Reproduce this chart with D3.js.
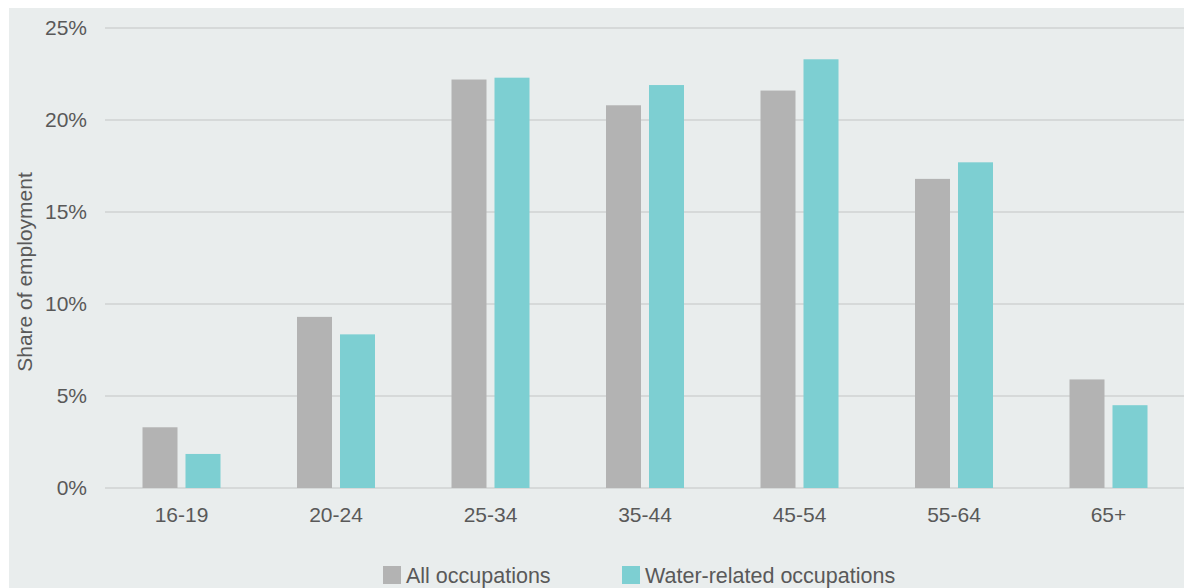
<!DOCTYPE html>
<html>
<head>
<meta charset="utf-8">
<script src="https://cdn.jsdelivr.net/npm/d3@7"></script>
<style>
  html, body { margin: 0; padding: 0; background: #ffffff; }
  svg { display: block; }
  text { font-family: "Liberation Sans", Arial, Helvetica, sans-serif; fill: #595959; }
</style>
</head>
<body>
<svg id="chart" width="1184" height="588"></svg>
<script>
const categories = ["16-19", "20-24", "25-34", "35-44", "45-54", "55-64", "65+"];
const seriesNames = ["All occupations", "Water-related occupations"];
const allOccupations = [3.3, 9.3, 22.2, 20.8, 21.6, 16.8, 5.9];
const waterRelated = [1.85, 8.35, 22.3, 21.9, 23.3, 17.7, 4.5];
const yTicks = [0, 5, 10, 15, 20, 25];
const colors = ["#b3b3b3", "#7dcfd2"];

const svg = d3.select("#chart");
const W = 1184, H = 588;

// panel background
svg.append("rect").attr("x", 9).attr("y", 8).attr("width", W - 9).attr("height", H - 8).attr("fill", "#e9eded");

const x = d3.scaleBand().domain(categories).range([104.25, 1185.75]).paddingInner(0).paddingOuter(0);
const y = d3.scaleLinear().domain([0, 25]).range([488, 28]);

const gridX0 = 105;
// gridlines
svg.append("g").selectAll("line").data(yTicks).join("line")
  .attr("x1", gridX0).attr("x2", W)
  .attr("y1", d => y(d)).attr("y2", d => y(d))
  .attr("stroke", "#d6d9d9").attr("stroke-width", 2);

// y axis labels
const yAxis = d3.axisLeft(y).tickValues(yTicks).tickFormat(d => d + "%").tickSize(0).tickPadding(0);
const gy = svg.append("g").attr("transform", "translate(87,0)").call(yAxis);
gy.select(".domain").remove();
gy.selectAll("text").attr("font-size", 21).attr("fill", "#595959")
  .style("font-family", '"Liberation Sans", Arial, sans-serif').attr("dy", "0.3em");

// x axis labels
const xAxis = d3.axisBottom(x).tickSize(0).tickPadding(0);
const gx = svg.append("g").attr("transform", "translate(0,506)").call(xAxis);
gx.select(".domain").remove();
gx.selectAll("text").attr("font-size", 21).attr("fill", "#595959")
  .style("font-family", '"Liberation Sans", Arial, sans-serif').attr("dy", "0.75em");

// bars
const barW = 35, gap = 8;
const series = [allOccupations, waterRelated];
series.forEach((vals, si) => {
  svg.append("g").selectAll("rect").data(vals).join("rect")
    .attr("x", (d, i) => x(categories[i]) + x.bandwidth() / 2 - (barW * 2 + gap) / 2 + si * (barW + gap))
    .attr("width", barW)
    .attr("y", d => y(d))
    .attr("height", d => y(0) - y(d))
    .attr("fill", colors[si]);
});

// y axis title
svg.append("text")
  .attr("transform", "translate(32,272) rotate(-90)")
  .attr("text-anchor", "middle")
  .attr("font-size", 21)
  .text("Share of employment");

// legend
const legend = [{x: 383, name: seriesNames[0], c: colors[0]}, {x: 622, name: seriesNames[1], c: colors[1]}];
const lg = svg.append("g");
legend.forEach(l => {
  lg.append("rect").attr("x", l.x).attr("y", 566).attr("width", 18).attr("height", 18).attr("fill", l.c);
  lg.append("text").attr("x", l.x + 23).attr("y", 583).attr("font-size", 21.5).text(l.name);
});
</script>
</body>
</html>
